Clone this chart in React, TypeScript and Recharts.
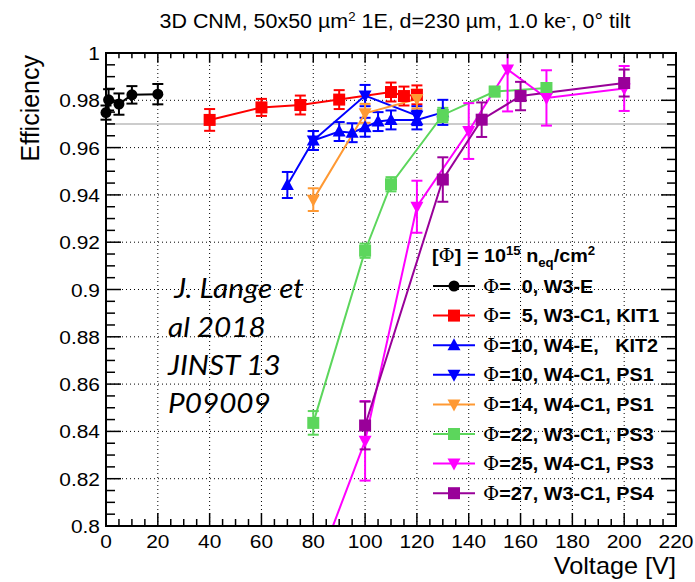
import React from 'react'
import {
  LineChart,
  Line,
  XAxis,
  YAxis,
  ErrorBar,
  ReferenceLine,
  CartesianGrid
} from 'recharts'

// tick labels
const xTickLabels = [0, 20, 40, 60, 80, 100, 120, 140, 160, 180, 200, 220]
const yTickLabels = [0.8, 0.82, 0.84, 0.86, 0.88, 0.9, 0.92, 0.94, 0.96, 0.98, 1]

// Φ = 0, W3-E
const w3eVolt = [0, 1, 5, 10, 20]
const w3eEff = [0.9748, 0.9802, 0.9784, 0.9823, 0.9826]
const w3eErr = [0.003, 0.0045, 0.0045, 0.0037, 0.0043]

// Φ = 5, W3-C1, KIT1
const kit1Volt = [40, 60, 75, 90, 110, 115, 120]
const kit1Eff = [0.9717, 0.977, 0.978, 0.9803, 0.9835, 0.9818, 0.9823]
const kit1Err = [0.0046, 0.0036, 0.004, 0.004, 0.004, 0.004, 0.004]

// Φ = 10, W4-E, KIT2
const kit2Volt = [70, 80, 90, 95, 100, 105, 110, 120, 130]
const kit2Eff = [0.9442, 0.963, 0.9668, 0.9663, 0.9686, 0.971, 0.9717, 0.9717, 0.9749]
const kit2Err = [0.0055, 0.004, 0.004, 0.004, 0.004, 0.004, 0.004, 0.004, 0.0053]

// Φ = 10, W4-C1, PS1
const ps1aVolt = [80, 100, 120]
const ps1aEff = [0.963, 0.982, 0.9735]
const ps1aErr = [0.004, 0.0045, 0.004]

// Φ = 14, W4-C1, PS1
const ps1bVolt = [80, 100, 120]
const ps1bEff = [0.938, 0.9745, 0.9805]
const ps1bErr = [0.0048, 0.004, 0.004]

// Φ = 22, W3-C1, PS3
const ps3aVolt = [80, 100, 110, 130, 150, 170]
const ps3aEff = [0.8436, 0.9164, 0.9445, 0.9738, 0.9837, 0.9852]
const ps3aErr = [0.005, 0.003, 0.003, 0.003, 0.002, 0.002]

// Φ = 25, W4-C1, PS3 (first point lies below the frame; the 155 V bar is cut by the top)
const ps3bVolt = [80, 100, 120, 140, 155, 170, 200]
const ps3bEff = [0.778, 0.836, 0.935, 0.967, 0.993, 0.981, 0.985]
const ps3bErr: (number | [number, number] | undefined)[] = [undefined, 0.0168, 0.011, 0.0118, [0.0177, 0.007], 0.0117, 0.0095]

// Φ = 27, W3-C1, PS4
const ps4Volt = [100, 130, 145, 160, 200]
const ps4Eff = [0.8425, 0.9465, 0.9718, 0.9818, 0.9873]
const ps4Err = [0.0101, 0.0094, 0.0073, 0.006, 0.0057]

const toRows = (v: number[], e: number[], err: any[]) =>
  v.map((x, i) => ({ v: x, e: e[i], err: err[i] }))

type Shape = 'circle' | 'square' | 'up' | 'down'

const series: { label: string, color: string, shape: Shape, data: any[] }[] = [
  { label: '=  0, W3-E', color: '#000000', shape: 'circle', data: toRows(w3eVolt, w3eEff, w3eErr) },
  { label: '=  5, W3-C1, KIT1', color: '#ff0000', shape: 'square', data: toRows(kit1Volt, kit1Eff, kit1Err) },
  { label: '=10, W4-E,   KIT2', color: '#0000ff', shape: 'up', data: toRows(kit2Volt, kit2Eff, kit2Err) },
  { label: '=10, W4-C1, PS1', color: '#0000ff', shape: 'down', data: toRows(ps1aVolt, ps1aEff, ps1aErr) },
  { label: '=14, W4-C1, PS1', color: '#ff9933', shape: 'down', data: toRows(ps1bVolt, ps1bEff, ps1bErr) },
  { label: '=22, W3-C1, PS3', color: '#5cd65c', shape: 'square', data: toRows(ps3aVolt, ps3aEff, ps3aErr) },
  { label: '=25, W4-C1, PS3', color: '#ff00ff', shape: 'down', data: toRows(ps3bVolt, ps3bEff, ps3bErr) },
  { label: '=27, W3-C1, PS4', color: '#990099', shape: 'square', data: toRows(ps4Volt, ps4Eff, ps4Err) },
]

// chart geometry
const W = 695
const H = 582
const PLOT_L = 106
const PLOT_T = 53
const PLOT_W = 570
const PLOT_H = 473
const STRETCH = 1.1
const FONT = '"Liberation Sans", Arial, sans-serif'
const SERIF = '"DejaVu Serif", "Liberation Serif", serif'
const FRAME = '#000000'

// 4 minor divisions between labelled ticks
const withMinor = (labels: number[], dec: number) => {
  const out: number[] = []
  labels.forEach((v, i) => {
    out.push(v)
    const next = labels[i + 1]
    if (next === undefined) return
    for (let k = 1; k < 4; k++) out.push(Math.round((v + (next - v) * k / 4) * dec) / dec)
  })
  return out
}
const xTicks = withMinor(xTickLabels, 10)
const yTicks = withMinor(yTickLabels, 10000)
const isMajorX = (v: number) => xTickLabels.includes(v)
const isMajorY = (v: number) => yTickLabels.some(t => Math.abs(t - v) < 1e-6)

const Txt = (props: any) => {
  const { x, y, size, anchor = 'start', bold, italic, family = FONT, children } = props
  return (
    <g transform={`translate(${x},${y}) scale(${STRETCH},1)`}>
      <text
        x={0}
        y={0}
        fontSize={size}
        textAnchor={anchor}
        fontWeight={bold ? 'bold' : 'normal'}
        fontStyle={italic ? 'italic' : 'normal'}
        fontFamily={family}
        fill="#000000"
        style={{ whiteSpace: 'pre' }}
      >
        {children}
      </text>
    </g>
  )
}

const Marker = (props: any) => {
  const { cx, cy, mk, c } = props
  if (cx == null || cy == null || isNaN(cx) || isNaN(cy)) return null
  if (mk === 'circle') return <circle cx={cx} cy={cy} r={5.5} fill={c} />
  if (mk === 'square') return <rect x={cx - 6} y={cy - 6} width={12} height={12} fill={c} />
  if (mk === 'up') return <polygon points={`${cx},${cy - 7} ${cx - 6.5},${cy + 5} ${cx + 6.5},${cy + 5}`} fill={c} />
  return <polygon points={`${cx},${cy + 7} ${cx - 6.5},${cy - 5} ${cx + 6.5},${cy - 5}`} fill={c} />
}

// axis ticks point inwards (ROOT style) and are mirrored on the top / right edges
const XTick = (props: any) => {
  const { x, y, payload } = props
  const v = payload.value
  const major = isMajorX(v)
  const len = major ? 13 : 7
  const top = y - PLOT_H
  return (
    <g>
      <line x1={x} y1={y} x2={x} y2={y - len} stroke={FRAME} strokeWidth={1.5} />
      <line x1={x} y1={top} x2={x} y2={top + len * 0.75} stroke={FRAME} strokeWidth={1.5} />
      {major && <Txt x={x} y={y + 22} size={19} anchor="middle">{String(v)}</Txt>}
    </g>
  )
}

const YTick = (props: any) => {
  const { x, y, payload } = props
  const v = payload.value
  const major = isMajorY(v)
  const len = major ? 15 : 9
  const right = x + PLOT_W
  return (
    <g>
      <line x1={x} y1={y} x2={x + len} y2={y} stroke={FRAME} strokeWidth={1.5} />
      <line x1={right} y1={y} x2={right - len} y2={y} stroke={FRAME} strokeWidth={1.5} />
      {major && <Txt x={x - 6} y={y + 7} size={19} anchor="end">{String(Math.round(v * 100) / 100)}</Txt>}
    </g>
  )
}

const LegendBox = () => {
  const rows0 = 286
  const step = 29.6
  return (
    <g>
      <Txt x={432} y={262} size={18} bold>
        [<tspan fontFamily={SERIF} fontWeight="normal">Φ</tspan>] = 10<tspan dy={-7} fontSize={12}>15</tspan>
        <tspan dy={7}> n</tspan>
        <tspan dy={5} fontSize={12}>eq</tspan>
        <tspan dy={-5}>/cm</tspan>
        <tspan dy={-7} fontSize={12}>2</tspan>
      </Txt>
      {series.map((s, i) => {
        const cy = rows0 + i * step
        return (
          <g key={s.label}>
            <line x1={433} y1={cy} x2={475} y2={cy} stroke={s.color} strokeWidth={2} />
            <Marker cx={454} cy={cy} mk={s.shape} c={s.color} />
            <Txt x={483} y={cy + 6.5} size={18} bold>
              <tspan fontFamily={SERIF} fontWeight="normal">Φ</tspan>{s.label}
            </Txt>
          </g>
        )
      })}
    </g>
  )
}

const App: React.FC = () => {
  return (
    <div style={{ position: 'absolute', left: 0, top: 0, width: W, height: H, background: '#ffffff' }}>
      <LineChart width={W} height={H} margin={{ top: PLOT_T, right: W - PLOT_L - PLOT_W, bottom: 0, left: 0 }}>
        <CartesianGrid
          stroke={FRAME}
          strokeWidth={1}
          strokeDasharray="1 3"
          horizontalValues={yTickLabels.slice(1, -1)}
          verticalValues={xTickLabels.slice(1, -1)}
        />
        <ReferenceLine y={0.97} stroke="#cccccc" strokeWidth={2} />
        {series.map(s => (
          <Line
            key={s.label}
            data={s.data}
            dataKey="e"
            stroke={s.color}
            strokeWidth={2}
            dot={<Marker mk={s.shape} c={s.color} r={7} />}
            activeDot={false}
            isAnimationActive={false}
          >
            <ErrorBar dataKey="err" direction="y" width={5.5} stroke={s.color} strokeWidth={2} isAnimationActive={false} />
          </Line>
        ))}
        <XAxis
          dataKey="v"
          type="number"
          domain={[0, 220]}
          ticks={xTicks}
          interval={0}
          height={H - PLOT_T - PLOT_H}
          stroke={FRAME}
          axisLine={{ stroke: FRAME, strokeWidth: 2 }}
          tickLine={false}
          tickSize={0}
          tickMargin={0}
          tick={(p: any) => <XTick {...p} />}
        />
        <YAxis
          type="number"
          domain={[0.8, 1]}
          allowDataOverflow
          ticks={yTicks}
          interval={0}
          width={PLOT_L}
          stroke={FRAME}
          axisLine={{ stroke: FRAME, strokeWidth: 2 }}
          tickLine={false}
          tickSize={0}
          tickMargin={0}
          tick={(p: any) => <YTick {...p} />}
        />
      </LineChart>
      <svg width={W} height={H} style={{ position: 'absolute', left: 0, top: 0, pointerEvents: 'none' }}>
        <rect x={PLOT_L} y={PLOT_T} width={PLOT_W} height={PLOT_H} fill="none" stroke={FRAME} strokeWidth={2} />
        <Txt x={395} y={28} size={19.5} anchor="middle">
          3D CNM, 50x50 µm<tspan dy={-7} fontSize={12}>2</tspan>
          <tspan dy={7}> 1E, d=230 µm, 1.0 ke</tspan>
          <tspan dy={-7} fontSize={12}>-</tspan>
          <tspan dy={7}>, 0° tilt</tspan>
        </Txt>
        <text
          transform="translate(39,55) rotate(-90)"
          fontSize={25}
          textAnchor="end"
          fontFamily={FONT}
          fill="#000000"
        >
          Efficiency
        </text>
        <Txt x={676} y={574} size={23} anchor="end">Voltage [V]</Txt>
        <Txt x={168} y={298} size={27} italic family="Lato, sans-serif"> J. Lange et</Txt>
        <Txt x={168} y={337} size={27} italic family="Lato, sans-serif">al 2018</Txt>
        <Txt x={168} y={375} size={27} italic family="Lato, sans-serif">JINST 13</Txt>
        <Txt x={168} y={413} size={27} italic family="Lato, sans-serif">P09009</Txt>
        <LegendBox />
      </svg>
    </div>
  )
}

export default App
